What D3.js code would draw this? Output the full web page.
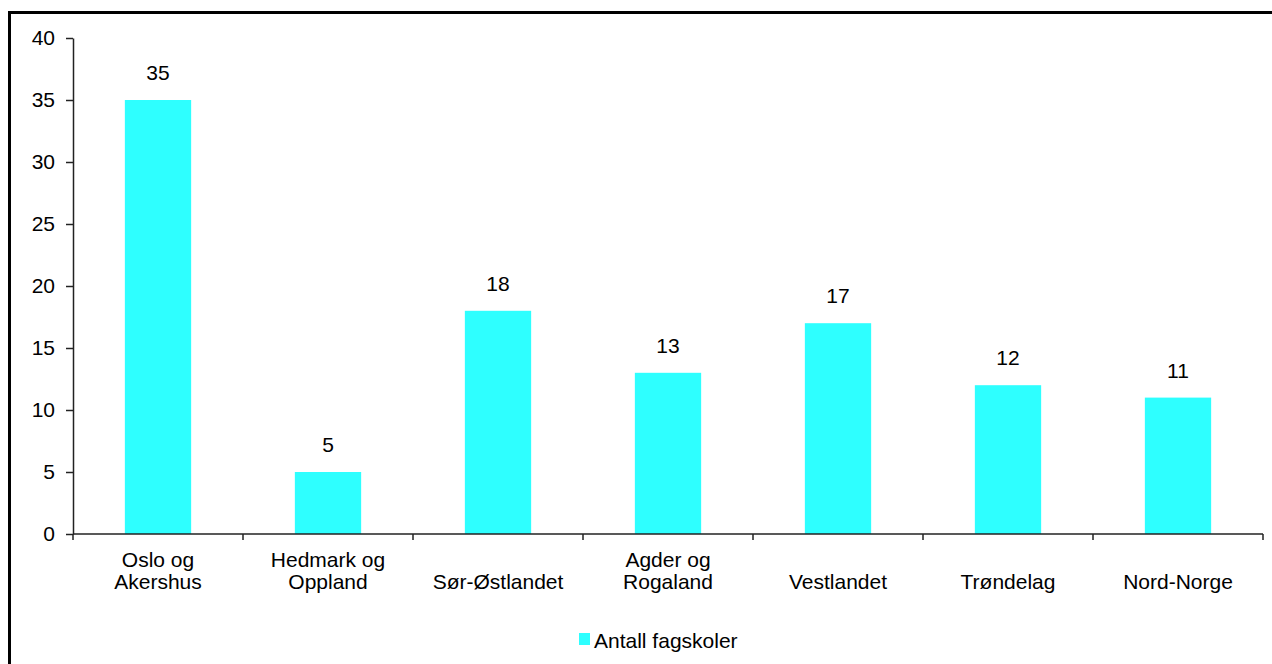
<!DOCTYPE html>
<html>
<head>
<meta charset="utf-8">
<script src="https://cdn.jsdelivr.net/npm/d3@7"></script>
<style>
  body { margin: 0; background: #fff; }
  svg text { font-family: "Liberation Sans", Arial, sans-serif; fill: #000; }
</style>
</head>
<body>
<svg width="1272" height="664"></svg>
<script>
const regions = ['Oslo og\nAkershus', 'Hedmark og\nOppland', 'Sør-Østlandet', 'Agder og\nRogaland', 'Vestlandet', 'Trøndelag', 'Nord-Norge']
const schools = [35, 5, 18, 13, 17, 12, 11]
const yTicks = [0, 5, 10, 15, 20, 25, 30, 35, 40]
const seriesName = 'Antall fagskoler'

const svg = d3.select('svg')
const fontSize = 21

// frame (runs past the right/bottom edge like the reference)
svg.append('rect')
  .attr('x', 9.5).attr('y', 12.5)
  .attr('width', 1400).attr('height', 800)
  .attr('fill', 'none').attr('stroke', '#000').attr('stroke-width', 3)

const x = d3.scaleBand().domain(regions).range([73, 1263]).paddingInner(0)
const y = d3.scaleLinear().domain([0, 40]).range([534, 38])
const barW = x.bandwidth() * 0.39

// bars
svg.append('g').selectAll('rect').data(regions)
  .enter().append('rect')
  .attr('x', d => x(d) + (x.bandwidth() - barW) / 2)
  .attr('y', (d, i) => y(schools[i]))
  .attr('width', barW)
  .attr('height', (d, i) => y(0) - y(schools[i]))
  .attr('fill', '#2effff')

// value labels
svg.append('g').selectAll('text').data(regions)
  .enter().append('text')
  .attr('x', d => x(d) + x.bandwidth() / 2)
  .attr('y', (d, i) => y(schools[i]) - 20)
  .attr('text-anchor', 'middle')
  .style('font-size', fontSize + 'px')
  .text((d, i) => schools[i])

// y axis
const yAxis = svg.append('g')
  .attr('transform', `translate(${x.range()[0]},0)`)
  .call(d3.axisLeft(y).tickValues(yTicks).tickSize(7).tickPadding(11).tickSizeOuter(0))
yAxis.select('.domain').attr('stroke', '#222').attr('stroke-width', 1.5)
yAxis.selectAll('.tick line').attr('stroke', '#222').attr('stroke-width', 1.5)
yAxis.selectAll('.tick text').style('font-size', fontSize + 'px').attr('fill', '#000')
  .style('font-family', '"Liberation Sans", Arial, sans-serif')

// x axis: ticks at band boundaries
const xAxisG = svg.append('g').attr('transform', `translate(0,${y(0)})`)
xAxisG.append('line')
  .attr('x1', x.range()[0]).attr('x2', x.range()[1])
  .attr('stroke', '#222').attr('stroke-width', 1.5)
const bounds = regions.map(d => x(d)).concat([x.range()[1]])
xAxisG.selectAll('.bt').data(bounds)
  .enter().append('line').classed('bt', true)
  .attr('x1', d => d).attr('x2', d => d)
  .attr('y1', 0).attr('y2', 6)
  .attr('stroke', '#222').attr('stroke-width', 1.5)

// category labels, bottom aligned
svg.append('g').selectAll('text').data(regions)
  .enter().append('text')
  .attr('text-anchor', 'middle')
  .style('font-size', fontSize + 'px')
  .each(function(d){
    const lines = d.split('\n')
    const t = d3.select(this)
    lines.forEach((l, i) => {
      t.append('tspan')
        .attr('x', x(d) + x.bandwidth() / 2)
        .attr('y', 589 - (lines.length - 1 - i) * 22)
        .text(l)
    })
  })

// legend
const legend = svg.append('g').attr('transform', 'translate(579,633)')
legend.append('rect').attr('width', 11).attr('height', 12).attr('fill', '#2effff')
legend.append('text').attr('x', 15).attr('y', 15)
  .style('font-size', fontSize + 'px')
  .text(seriesName)
</script>
</body>
</html>
